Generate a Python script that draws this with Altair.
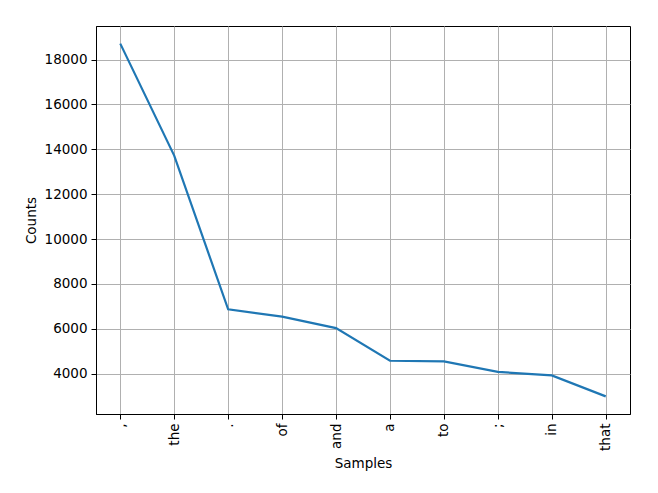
import altair as alt
import pandas as pd

words = [",", "the", ".", "of", "and", "a", "to", ";", "in", "that"]
counts = [18713, 13721, 6862, 6536, 6024, 4569, 4542, 4072, 3916, 2982]

df = pd.DataFrame({"idx": list(range(len(words))), "word": words, "count": counts})

label_expr = "[" + ",".join("'" + w + "'" for w in words) + "][datum.value]"

chart = alt.Chart(df).mark_line(color="#1f77b4", strokeWidth=2.2).encode(
    x=alt.X("idx:Q",
            scale=alt.Scale(domain=[-0.45, 9.45], nice=False, zero=False),
            axis=alt.Axis(title="Samples", values=list(range(len(words))),
                          labelExpr=label_expr, labelAngle=270,
                          tickSize=5, labelPadding=4, titlePadding=6)),
    y=alt.Y("count:Q",
            scale=alt.Scale(domain=[2195, 19500], nice=False, zero=False),
            axis=alt.Axis(title="Counts", values=list(range(4000, 19000, 2000)),
                          format="d", tickSize=5, labelPadding=4, titlePadding=6)),
).properties(
    width=534, height=388,
    autosize=alt.AutoSizeParams(type="none"),
    padding={"left": 88, "top": 18, "right": 20, "bottom": 70},
    background="white",
).configure_axis(
    grid=True, gridColor="#b0b0b0", gridWidth=1,
    domainColor="black", domainWidth=1,
    tickColor="black", tickWidth=1,
    labelFont="DejaVu Sans", labelFontSize=13.5, labelColor="black",
    titleFont="DejaVu Sans", titleFontSize=13.5, titleFontWeight="normal", titleColor="black",
).configure_view(stroke="black", strokeWidth=1)

chart.save("out.html", embed_options={"renderer": "svg", "actions": False})
